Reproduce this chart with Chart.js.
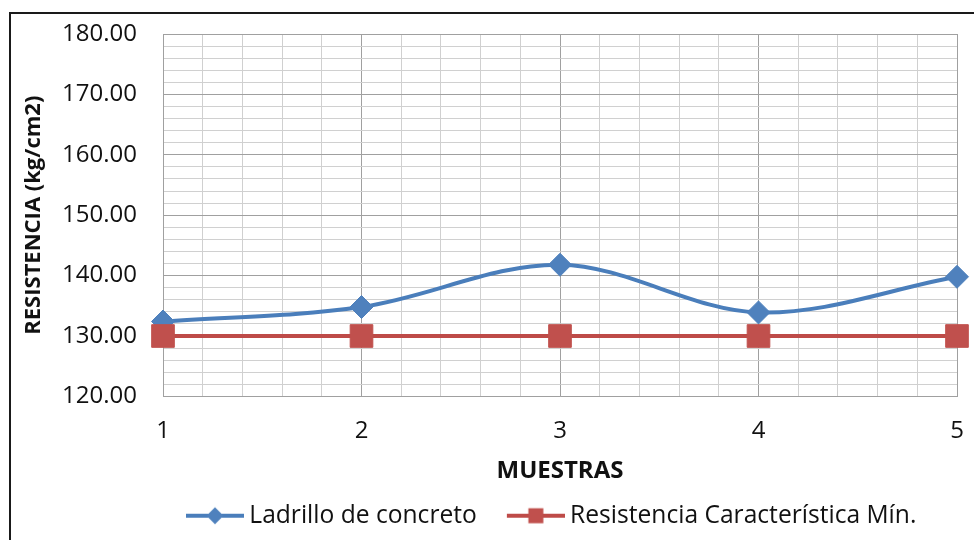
<!DOCTYPE html>
<html>
<head>
<meta charset="utf-8">
<script src="https://cdn.jsdelivr.net/npm/chart.js@4/dist/chart.umd.min.js"></script>
<style>
  html, body { margin: 0; padding: 0; background: #ffffff; }
  #wrap { position: relative; width: 974px; height: 540px; overflow: hidden; }
  #wrap canvas { position: absolute; left: 0; top: 0; }
  #frame {
    position: absolute; left: 9px; top: 12px; width: 1000px; height: 600px;
    border: 2px solid #1a1a1a; box-sizing: border-box; pointer-events: none;
  }
</style>
</head>
<body>
<div id="wrap">
  <canvas id="chart" width="974" height="540"></canvas>
  <div id="frame"></div>
</div>
<script>
// Sample numbers on the horizontal axis
const muestras = [1, 2, 3, 4, 5];
// Compressive strength of each concrete brick sample (kg/cm2)
const ladrillo = [132.4, 134.8, 141.8, 133.9, 139.8];
// Minimum characteristic strength required
const resistenciaMin = [130, 130, 130, 130, 130];
// Labelled values on the strength axis
const yTickLabels = [120, 130, 140, 150, 160, 170, 180];

const BLUE = '#4a7ebb';
const BLUE_FILL = '#4f81bd';
const RED = '#be4b48';
const RED_FILL = '#c0504d';
const FONT = "'Open Sans', 'DejaVu Sans', sans-serif";
const LEGEND_SIZE = 24.6;

const toPoints = (xs, ys) => xs.map((x, i) => ({ x: x, y: ys[i] }));

// Legend sample: a short stroke with the series marker in the middle
function legendSample(color, fill, shape) {
  const c = document.createElement('canvas');
  c.width = 81; c.height = 24;
  const g = c.getContext('2d');
  const x0 = c.width - 58, x1 = c.width, cy = 12, cx = (x0 + x1) / 2;
  g.strokeStyle = color; g.lineWidth = 4;
  g.beginPath(); g.moveTo(x0, cy); g.lineTo(x1, cy); g.stroke();
  g.fillStyle = fill;
  g.beginPath();
  if (shape === 'diamond') {
    const r = 8.5;
    g.moveTo(cx, cy - r); g.lineTo(cx + r, cy); g.lineTo(cx, cy + r); g.lineTo(cx - r, cy);
  } else {
    const s = 15;
    g.rect(cx - s / 2, cy - s / 2, s, s);
  }
  g.closePath(); g.fill();
  return c;
}
const legendSamples = [
  legendSample(BLUE, BLUE_FILL, 'diamond'),
  legendSample(RED, RED_FILL, 'square')
];

const isWhole = v => Math.abs(v - Math.round(v)) < 1e-6;
const isYLabel = v => yTickLabels.some(t => Math.abs(t - v) < 1e-6);

// Moves the legend row so it starts under the plot, Excel style
const legendPlacement = {
  id: 'legendPlacement',
  afterLayout(chart) {
    if (chart.legend) { chart.legend.left = 156; }
  }
};

new Chart(document.getElementById('chart'), {
  type: 'line',
  data: {
    datasets: [
      {
        label: 'Ladrillo de concreto',
        data: toPoints(muestras, ladrillo),
        borderColor: BLUE,
        backgroundColor: BLUE_FILL,
        borderWidth: 4,
        tension: 0.34,
        pointStyle: 'rectRot',
        pointRadius: 11.5,
        pointBackgroundColor: BLUE_FILL,
        pointBorderColor: BLUE_FILL,
        pointBorderWidth: 1,
        clip: false,
        order: 1
      },
      {
        label: 'Resistencia Característica Mín.',
        data: toPoints(muestras, resistenciaMin),
        borderColor: RED,
        backgroundColor: RED_FILL,
        borderWidth: 4,
        tension: 0,
        pointStyle: 'rect',
        pointRadius: 16,
        pointBackgroundColor: RED_FILL,
        pointBorderColor: RED_FILL,
        pointBorderWidth: 1,
        clip: false,
        order: 0
      }
    ]
  },
  options: {
    responsive: false,
    animation: false,
    layout: { padding: { top: 34, right: 8, bottom: 2, left: 0 } },
    plugins: {
      tooltip: { enabled: false },
      legend: {
        position: 'bottom',
        align: 'start',
        labels: {
          usePointStyle: true,
          pointStyleWidth: 67,
          padding: 14,
          color: '#111111',
          font: { family: FONT, size: LEGEND_SIZE },
          sort: (a, b) => a.datasetIndex - b.datasetIndex,
          generateLabels(chart) {
            const items = Chart.defaults.plugins.legend.labels.generateLabels(chart);
            items.forEach(it => { it.pointStyle = legendSamples[it.datasetIndex]; });
            return items;
          }
        }
      }
    },
    scales: {
      x: {
        type: 'linear',
        min: 1,
        max: 5,
        afterFit(scale) {
          scale.height = 93;
          scale.paddingLeft = 0;
          scale.paddingRight = 0;
        },
        ticks: {
          stepSize: 0.2,
          maxTicksLimit: 1000,
          autoSkip: false,
          maxRotation: 0,
          padding: 20,
          color: '#111111',
          font: { family: FONT, size: 24 },
          callback: v => (isWhole(v) && muestras.includes(Math.round(v))) ? String(Math.round(v)) : ''
        },
        grid: {
          drawTicks: false,
          lineWidth: 1,
          color: ctx => (ctx.tick && isWhole(ctx.tick.value)) ? '#a0a0a0' : '#d0d0d0'
        },
        border: { color: '#a0a0a0', width: 1 },
        title: {
          display: true,
          text: 'MUESTRAS',
          color: '#111111',
          font: { family: FONT, size: 24, weight: 'bold' },
          padding: { top: 0, bottom: 4 }
        }
      },
      y: {
        min: 120,
        max: 180,
        afterFit(scale) {
          scale.width = 163;
          scale.paddingTop = 0;
          scale.paddingBottom = 0;
        },
        ticks: {
          stepSize: 2,
          maxTicksLimit: 1000,
          autoSkip: false,
          padding: 26,
          color: '#111111',
          font: { family: FONT, size: 24 },
          callback: v => isYLabel(v) ? Number(v).toFixed(2) : ''
        },
        grid: {
          drawTicks: false,
          lineWidth: 1,
          color: ctx => (ctx.tick && isYLabel(ctx.tick.value)) ? '#a0a0a0' : '#d0d0d0'
        },
        border: { color: '#a0a0a0', width: 1 },
        title: {
          display: true,
          text: 'RESISTENCIA (kg/cm2)',
          color: '#111111',
          font: { family: FONT, size: 22, weight: 'bold' },
          padding: { top: 21, bottom: 0 }
        }
      }
    }
  },
  plugins: [legendPlacement]
});
</script>
</body>
</html>
